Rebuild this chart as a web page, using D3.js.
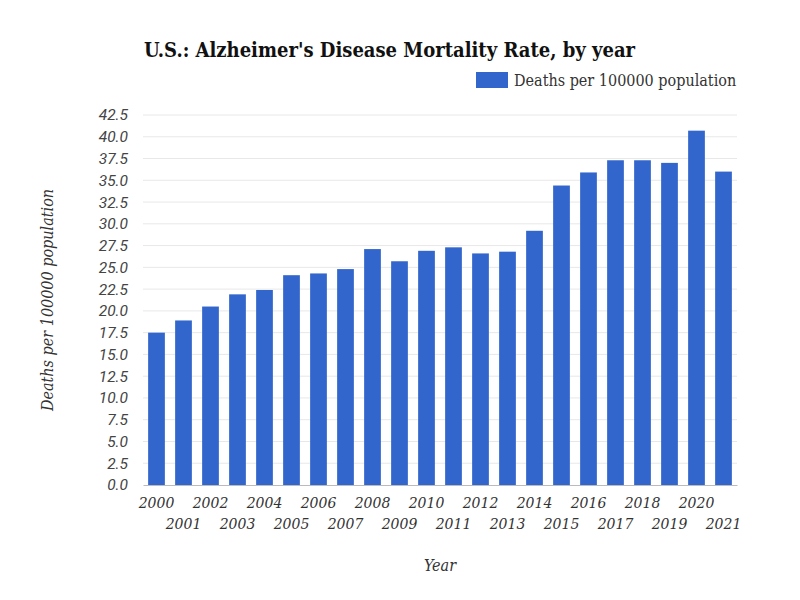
<!DOCTYPE html>
<html lang="en">
<head>
    <meta charset="UTF-8">
    <title>U.S.: Alzheimer's Disease Mortality Rate, by year</title>
    <script src="https://d3js.org/d3.v7.min.js"></script>
    <style>
        body { margin: 0; background: #fff; }
        .slab { font-family: "DejaVu Serif Condensed", "DejaVu Serif", serif; }
        .slab-wide { font-family: "DejaVu Serif", serif; }
    </style>
</head>
<body>
    <svg width="800" height="600"></svg>
    <script>
        // Datos
        var years = ["2000", "2001", "2002", "2003", "2004", "2005", "2006", "2007", "2008", "2009", "2010",
                     "2011", "2012", "2013", "2014", "2015", "2016", "2017", "2018", "2019", "2020", "2021"];
        var rates = [17.5, 18.9, 20.5, 21.9, 22.4, 24.1, 24.3, 24.8, 27.1, 25.7, 26.9,
                     27.3, 26.6, 26.8, 29.2, 34.4, 35.9, 37.3, 37.3, 37.0, 40.7, 36.0];
        var yTicks = [0, 2.5, 5, 7.5, 10, 12.5, 15, 17.5, 20, 22.5, 25, 27.5, 30, 32.5, 35, 37.5, 40, 42.5];
        var seriesName = "Deaths per 100000 population";

        var svg = d3.select("svg"),
            margin = {top: 115, right: 63, bottom: 115, left: 143},
            width = +svg.attr("width") - margin.left - margin.right,
            height = +svg.attr("height") - margin.top - margin.bottom,
            g = svg.append("g").attr("transform", "translate(" + margin.left + "," + margin.top + ")");

        var x = d3.scaleBand()
            .domain(years)
            .range([0, width])
            .paddingInner(0.38)
            .paddingOuter(0.19);

        var y = d3.scaleLinear()
            .domain([0, 42.5])
            .range([height, 0]);

        // Líneas de la cuadrícula
        g.selectAll(".grid")
            .data(yTicks.slice(1))
            .enter().append("line")
            .attr("x1", 0)
            .attr("x2", width)
            .attr("y1", function(d) { return y(d); })
            .attr("y2", function(d) { return y(d); })
            .attr("stroke", "#e8e8e8")
            .attr("stroke-width", 1);

        // Eje Y
        var yAxis = g.append("g")
            .call(d3.axisLeft(y).tickValues(yTicks).tickSize(0).tickPadding(15)
                .tickFormat(d3.format(".1f")));
        yAxis.select(".domain").remove();
        yAxis.selectAll("text")
            .style("font-family", "Roboto, sans-serif")
            .style("font-style", "italic")
            .style("font-size", "15.5px")
            .attr("fill", "#444");

        // Barras
        g.selectAll(".bar")
            .data(rates)
            .enter().append("rect")
            .attr("class", "bar")
            .attr("x", function(d, i) { return x(years[i]); })
            .attr("y", function(d) { return y(d); })
            .attr("width", x.bandwidth())
            .attr("height", function(d) { return height - y(d); })
            .attr("fill", "#3366cc");

        // Eje X
        var xAxis = g.append("g")
            .attr("transform", "translate(0," + height + ")")
            .call(d3.axisBottom(x).tickSize(0).tickPadding(0));
        xAxis.select(".domain").attr("stroke", "#bbb");
        xAxis.selectAll("text")
            .attr("class", "slab-wide")
            .attr("y", function(d, i) { return i % 2 === 0 ? 23 : 44; })
            .attr("dy", 0)
            .style("font-style", "italic")
            .style("font-size", "14px")
            .attr("fill", "#333");

        // Título
        svg.append("text")
            .attr("class", "slab")
            .attr("x", 144)
            .attr("y", 57)
            .style("font-size", "20px")
            .style("font-weight", "bold")
            .attr("fill", "#111")
            .text("U.S.: Alzheimer's Disease Mortality Rate, by year");

        // Leyenda
        var legend = svg.append("g").attr("transform", "translate(476,72)");
        legend.append("rect")
            .attr("width", 32)
            .attr("height", 16)
            .attr("fill", "#3366cc");
        legend.append("text")
            .attr("class", "slab")
            .attr("x", 38)
            .attr("y", 14)
            .style("font-size", "16px")
            .attr("fill", "#333")
            .text(seriesName);

        // Título del eje Y
        svg.append("text")
            .attr("class", "slab")
            .attr("transform", "translate(53," + (margin.top + height / 2) + ") rotate(-90)")
            .attr("text-anchor", "middle")
            .style("font-size", "16px")
            .style("font-style", "italic")
            .attr("fill", "#333")
            .text(seriesName);

        // Título del eje X
        svg.append("text")
            .attr("class", "slab")
            .attr("x", margin.left + width / 2)
            .attr("y", 571)
            .attr("text-anchor", "middle")
            .style("font-size", "16px")
            .style("font-style", "italic")
            .attr("fill", "#333")
            .text("Year");
    </script>
</body>
</html>
